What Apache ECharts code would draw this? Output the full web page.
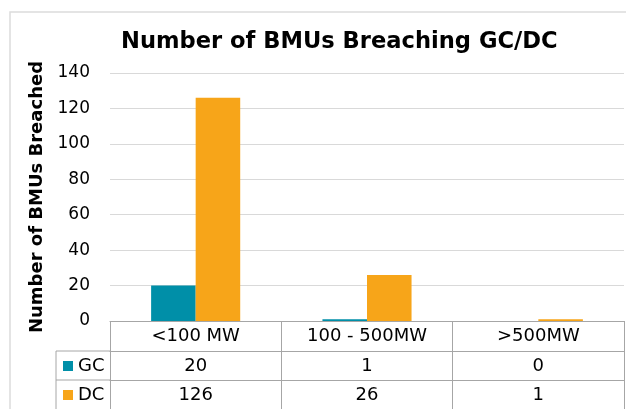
<!DOCTYPE html>
<html lang="en">
<head>
    <meta charset="UTF-8">
    <title>BMUs breaching GC/DC</title>
    <style>
        html, body { margin: 0; padding: 0; background: #fff; }
        #chart { width: 626px; height: 409px; }
    </style>
    <script src="https://cdn.jsdelivr.net/npm/echarts@6/dist/echarts.min.js"></script>
</head>
<body>
<div id="chart"></div>
<script>
    var categories = ['<100 MW', '100 - 500MW', '>500MW'];
    var gcValues = [20, 1, 0];
    var dcValues = [126, 26, 1];

    var font = 'DejaVu Sans';
    var lineGray = '#a6a6a6';

    var chart = echarts.init(document.getElementById('chart'));

    // the table under the plot is made from three stacked category axes
    function tableAxis(offset, labels) {
        return {
            type: 'category',
            data: categories,
            position: 'bottom',
            offset: offset,
            axisLine: {lineStyle: {color: lineGray}},
            axisTick: {show: true, interval: 0, length: 30, lineStyle: {color: lineGray}},
            axisLabel: {
                interval: 0,
                margin: 6,
                fontSize: 18,
                fontFamily: font,
                color: '#000',
                formatter: function (v, i) { return labels ? String(labels[i]) : v; }
            }
        };
    }

    function legendRow(name, top) {
        return {
            left: 63,
            top: top,
            padding: 0,
            itemWidth: 10,
            itemHeight: 10,
            itemGap: 0,
            icon: 'rect',
            textStyle: {fontFamily: font, fontSize: 18, color: '#000'},
            data: [name]
        };
    }

    var option = {
        animation: false,
        title: {
            text: 'Number of BMUs Breaching GC/DC',
            left: 116,
            top: 26,
            textStyle: {fontFamily: font, fontWeight: 'bold', fontSize: 22.6, color: '#000'}
        },
        legend: [legendRow('GC', 357), legendRow('DC', 386)],
        grid: {left: 110, right: 2, top: 73, bottom: 88},
        xAxis: [tableAxis(0, null), tableAxis(30, gcValues), tableAxis(59, dcValues)],
        yAxis: {
            type: 'value',
            min: 0,
            max: 140,
            interval: 20,
            name: 'Number of BMUs Breached',
            nameLocation: 'middle',
            nameRotate: 90,
            nameGap: 60,
            nameTextStyle: {fontFamily: font, fontWeight: 'bold', fontSize: 18, color: '#000'},
            axisLine: {show: false},
            axisTick: {show: false},
            axisLabel: {fontFamily: font, fontSize: 17, color: '#000', margin: 20},
            splitLine: {lineStyle: {color: '#d9d9d9'}}
        },
        series: [
            {
                name: 'GC',
                type: 'bar',
                data: gcValues,
                barGap: '0%',
                barCategoryGap: '48%',
                itemStyle: {color: '#008fa8'}
            },
            {
                name: 'DC',
                type: 'bar',
                data: dcValues,
                itemStyle: {color: '#f7a519'}
            }
        ],
        graphic: [
            {type: 'rect', z: -1, shape: {x: 10, y: 12, width: 700, height: 500},
             style: {fill: 'none', stroke: '#dcdcdc', lineWidth: 1.5}},
            {type: 'line', shape: {x1: 56, y1: 351, x2: 110, y2: 351}, style: {stroke: lineGray}},
            {type: 'line', shape: {x1: 56, y1: 380, x2: 110, y2: 380}, style: {stroke: lineGray}},
            {type: 'line', shape: {x1: 56, y1: 351, x2: 56, y2: 409}, style: {stroke: lineGray}}
        ]
    };

    chart.setOption(option);
</script>
</body>
</html>
